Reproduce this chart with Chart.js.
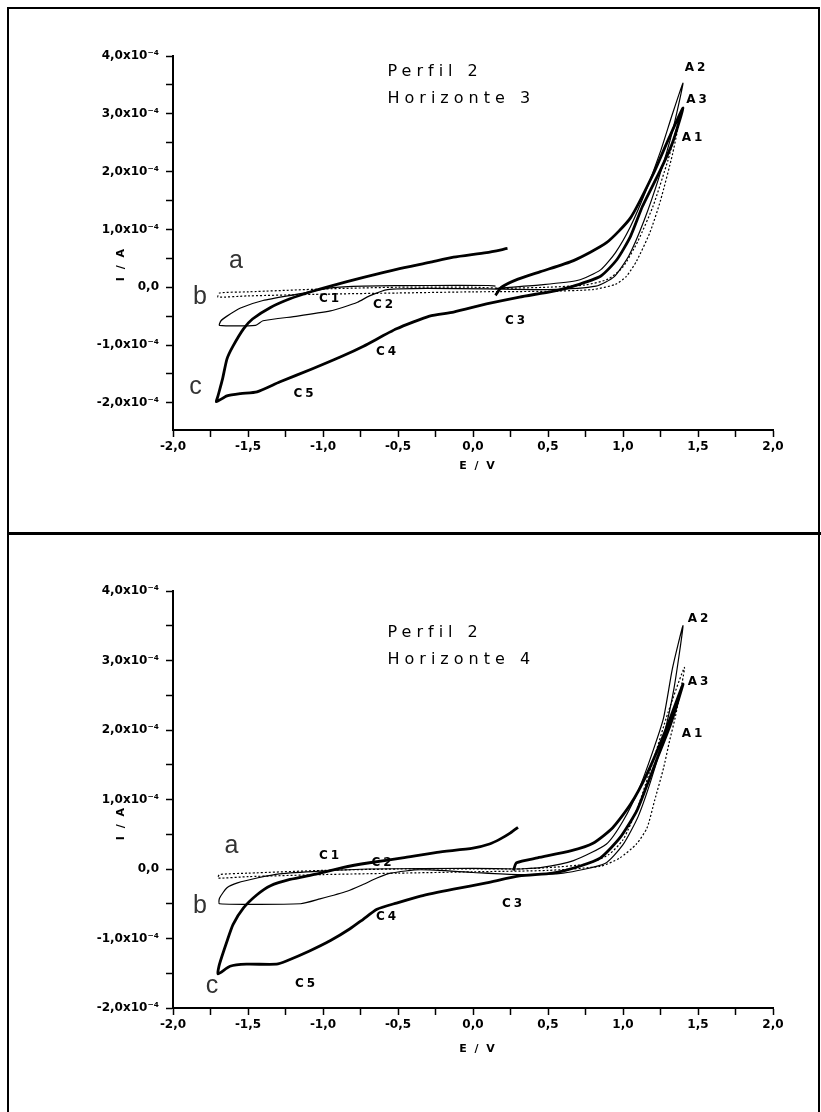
<!DOCTYPE html>
<html>
<head>
<meta charset="utf-8">
<script src="https://cdn.jsdelivr.net/npm/chart.js@4"></script>
<style>
html, body { margin: 0; padding: 0; background: #fff; }
#page { position: relative; width: 821px; height: 1112px; overflow: hidden; }
#frame { position: absolute; left: 7px; top: 7px; width: 813px; height: 1110px; border: 2px solid #000; box-sizing: border-box; }
#split { position: absolute; left: 7px; top: 532px; width: 814px; height: 3px; background: #000; }
canvas { position: absolute; left: 0; }
</style>
</head>
<body>
<div id="page">
  <div id="frame"></div>
  <div id="split"></div>
  <canvas id="chartH3" width="821" height="532" style="top:0"></canvas>
  <canvas id="chartH4" width="821" height="577" style="top:535px"></canvas>
</div>
<script>
// potential ticks (V) and current ticks (x10^-4 A)
const eTicks = [-2, -1.75, -1.5, -1.25, -1, -0.75, -0.5, -0.25, 0, 0.25, 0.5, 0.75, 1, 1.25, 1.5, 1.75, 2];
const iTicks = [-2, -1.5, -1, -0.5, 0, 0.5, 1, 1.5, 2, 2.5, 3, 3.5, 4];

// Perfil 2, Horizonte 3  -- [E (V), I (x10^-4 A)]
const h3_a = [[0.2,-0.02],[0.5,0.0],[0.75,0.04],[0.9,0.14],[1.0,0.35],[1.1,0.8],[1.2,1.4],[1.3,2.2],[1.38,2.95],
  [1.33,2.3],[1.25,1.5],[1.18,0.95],[1.09,0.45],[1.02,0.18],[0.95,0.05],[0.8,-0.04],[0.5,-0.07],[0.0,-0.08],
  [-0.5,-0.1],[-1.0,-0.12],[-1.5,-0.15],[-1.7,-0.17],[-1.69,-0.1],[-1.5,-0.08],[-1.0,-0.03],[-0.5,0.0],[0.0,0.0],[0.2,-0.02]];
const h3_b = [[0.15,-0.02],[0.45,0.04],[0.7,0.12],[0.85,0.3],[0.95,0.6],[1.05,1.05],[1.15,1.65],[1.25,2.35],[1.33,3.0],[1.4,3.53],
  [1.33,2.7],[1.24,1.9],[1.14,1.15],[1.04,0.55],[0.94,0.18],[0.82,0.02],[0.5,-0.04],[0.1,-0.03],[-0.3,-0.02],[-0.57,-0.04],
  [-0.69,-0.15],[-0.77,-0.26],[-0.87,-0.35],[-0.95,-0.41],[-1.17,-0.5],[-1.4,-0.58],[-1.45,-0.66],[-1.69,-0.66],
  [-1.68,-0.58],[-1.64,-0.5],[-1.55,-0.36],[-1.4,-0.23],[-1.17,-0.12],[-0.95,-0.01],[-0.73,0.02],[-0.3,0.03],[0.1,0.03],[0.15,0.02]];
const h3_c = [[0.15,-0.14],[0.19,0.0],[0.3,0.14],[0.45,0.27],[0.67,0.46],[0.89,0.77],[1.05,1.2],[1.2,1.95],[1.31,2.6],[1.4,3.1],
  [1.33,2.5],[1.25,2.03],[1.13,1.4],[1.05,0.88],[0.96,0.48],[0.85,0.19],[0.67,0.02],[0.53,-0.07],[0.31,-0.17],[0.09,-0.29],
  [-0.13,-0.43],[-0.29,-0.5],[-0.51,-0.72],[-0.73,-1.02],[-0.87,-1.19],[-1.07,-1.41],[-1.29,-1.64],[-1.44,-1.81],[-1.55,-1.84],
  [-1.64,-1.88],[-1.71,-1.98],[-1.70,-1.88],[-1.67,-1.59],[-1.64,-1.24],[-1.6,-1.02],[-1.53,-0.72],[-1.47,-0.55],[-1.35,-0.35],
  [-1.22,-0.2],[-1.07,-0.07],[-0.95,0.02],[-0.73,0.17],[-0.51,0.31],[-0.29,0.43],[-0.13,0.52],[0.09,0.6],[0.23,0.67]];

// Perfil 2, Horizonte 4
const h4_a = [[0.3,0.0],[0.5,0.02],[0.75,0.07],[0.9,0.2],[1.0,0.42],[1.1,0.9],[1.2,1.55],[1.3,2.25],[1.41,2.9],
  [1.35,2.2],[1.31,1.84],[1.27,1.45],[1.21,0.98],[1.16,0.59],[1.09,0.36],[0.98,0.16],[0.85,0.04],[0.5,-0.02],[0.0,-0.04],
  [-0.5,-0.06],[-1.0,-0.08],[-1.5,-0.11],[-1.7,-0.13],[-1.69,-0.08],[-1.5,-0.06],[-1.0,-0.02],[-0.5,0.0],[0.0,0.0],[0.3,0.0]];
const h4_b = [[0.3,0.0],[0.45,0.02],[0.67,0.12],[0.89,0.36],[1.0,0.69],[1.11,1.17],[1.2,1.7],[1.27,2.17],[1.33,2.89],[1.4,3.5],
  [1.34,2.6],[1.27,1.9],[1.19,1.3],[1.1,0.75],[1.0,0.35],[0.88,0.08],[0.6,-0.06],[0.3,-0.08],[0.0,-0.05],[-0.35,-0.01],
  [-0.55,-0.06],[-0.64,-0.13],[-0.73,-0.22],[-0.84,-0.32],[-1.02,-0.43],[-1.15,-0.5],[-1.69,-0.5],[-1.69,-0.42],[-1.64,-0.27],
  [-1.57,-0.2],[-1.44,-0.13],[-1.29,-0.07],[-1.02,-0.03],[-0.69,0.0],[0.0,0.01],[0.3,0.0]];
const h4_c = [[0.27,-0.02],[0.29,0.09],[0.43,0.16],[0.65,0.26],[0.8,0.37],[0.93,0.59],[1.05,0.93],[1.16,1.37],[1.29,2.03],[1.4,2.66],
  [1.32,2.1],[1.23,1.6],[1.15,1.15],[1.09,0.83],[0.98,0.45],[0.85,0.16],[0.71,0.04],[0.53,-0.06],[0.31,-0.1],[0.09,-0.2],
  [-0.13,-0.29],[-0.35,-0.39],[-0.51,-0.49],[-0.64,-0.58],[-0.73,-0.72],[-0.82,-0.86],[-0.95,-1.03],[-1.09,-1.18],[-1.24,-1.32],
  [-1.31,-1.37],[-1.51,-1.37],[-1.62,-1.4],[-1.7,-1.51],[-1.69,-1.37],[-1.64,-1.04],[-1.6,-0.8],[-1.53,-0.56],[-1.44,-0.37],
  [-1.35,-0.24],[-1.22,-0.15],[-1.04,-0.07],[-0.87,0.02],[-0.69,0.09],[-0.47,0.16],[-0.24,0.24],[0.0,0.3],[0.11,0.36],
  [0.18,0.43],[0.25,0.52],[0.3,0.6]];

// text placed on the plot, in data units
const h3_notes = [
  { t: 'Perfil 2', x: -0.57, y: 3.72, kind: 'title' },
  { t: 'Horizonte 3', x: -0.57, y: 3.26, kind: 'title' },
  { t: 'A2', x: 1.49, y: 3.79, kind: 'peak' },
  { t: 'A3', x: 1.50, y: 3.24, kind: 'peak' },
  { t: 'A1', x: 1.47, y: 2.59, kind: 'peak' },
  { t: 'a', x: -1.58, y: 0.45, kind: 'curve' },
  { t: 'b', x: -1.82, y: -0.17, kind: 'curve' },
  { t: 'c', x: -1.85, y: -1.72, kind: 'curve' },
  { t: 'C1', x: -0.95, y: -0.21, kind: 'peak' },
  { t: 'C2', x: -0.59, y: -0.31, kind: 'peak' },
  { t: 'C3', x: 0.29, y: -0.59, kind: 'peak' },
  { t: 'C4', x: -0.57, y: -1.12, kind: 'peak' },
  { t: 'C5', x: -1.12, y: -1.84, kind: 'peak' }
];
const h4_notes = [
  { t: 'Perfil 2', x: -0.57, y: 3.40, kind: 'title' },
  { t: 'Horizonte 4', x: -0.57, y: 3.01, kind: 'title' },
  { t: 'A2', x: 1.51, y: 3.60, kind: 'peak' },
  { t: 'A3', x: 1.51, y: 2.69, kind: 'peak' },
  { t: 'A1', x: 1.47, y: 1.94, kind: 'peak' },
  { t: 'a', x: -1.61, y: 0.33, kind: 'curve' },
  { t: 'b', x: -1.82, y: -0.53, kind: 'curve' },
  { t: 'c', x: -1.74, y: -1.68, kind: 'curve' },
  { t: 'C1', x: -0.95, y: 0.19, kind: 'peak' },
  { t: 'C2', x: -0.60, y: 0.09, kind: 'peak' },
  { t: 'C3', x: 0.27, y: -0.50, kind: 'peak' },
  { t: 'C4', x: -0.57, y: -0.69, kind: 'peak' },
  { t: 'C5', x: -1.11, y: -1.65, kind: 'peak' }
];

const noteStyle = {
  title: { font: '16px "DejaVu Sans"', spacing: '5px', align: 'left' },
  peak:  { font: 'bold 12px "DejaVu Sans"', spacing: '3px', align: 'center' },
  curve: { font: '25px "Liberation Sans"', spacing: '0px', align: 'center' }
};

const notesPlugin = {
  id: 'notes',
  afterDraw(chart, args, opts) {
    const { ctx, scales: { x, y } } = chart;
    ctx.save();
    ctx.textBaseline = 'middle';
    opts.items.forEach(n => {
      const st = noteStyle[n.kind];
      ctx.font = st.font;
      ctx.letterSpacing = st.spacing;
      ctx.textAlign = st.align;
      ctx.fillStyle = n.kind === 'curve' ? '#333' : '#000';
      ctx.fillText(n.t, x.getPixelForValue(n.x), y.getPixelForValue(n.y));
    });
    // axis titles
    ctx.fillStyle = '#000';
    ctx.font = 'bold 11px "DejaVu Sans"';
    ctx.letterSpacing = '2px';
    ctx.textAlign = 'center';
    ctx.fillText('E / V', (x.left + x.right) / 2 + 5, x.top + opts.eTitle);
    ctx.translate(121, y.getPixelForValue(opts.iTitle));
    ctx.rotate(-Math.PI / 2);
    ctx.fillText('I / A', 0, 0);
    ctx.restore();
  }
};

function iLabel(v) {
  if (v % 1 !== 0) return '';
  if (v === 0) return '0,0';
  return v + ',0x10\u207B\u2074';
}

function eLabel(v) {
  if (Math.abs(v * 2 - Math.round(v * 2)) > 1e-9) return '';
  return v.toFixed(1).replace('.', ',');
}

function buildChart(id, curves, yMin, notes, eTitle, iTitle, plotBottom) {
  const line = (data, width, dash) => ({
    data, showLine: true, borderColor: '#000', borderWidth: width, borderDash: dash,
    pointRadius: 0, tension: 0.2, fill: false
  });
  return new Chart(document.getElementById(id), {
    type: 'scatter',
    data: {
      datasets: [
        line(curves[0], 1.2, [2, 2]),
        line(curves[1], 1.2, []),
        line(curves[2], 2.8, [])
      ]
    },
    options: {
      responsive: false,
      animation: false,
      layout: { padding: { left: 0, top: 56, right: 48, bottom: 0 } },
      plugins: { legend: { display: false }, tooltip: { enabled: false }, notes: { items: notes, eTitle, iTitle } },
      scales: {
        x: {
          type: 'linear', min: -2, max: 2,
          afterBuildTicks: s => { s.ticks = eTicks.map(v => ({ value: v })); },
          afterFit: s => { s.height = s.chart.height - plotBottom; },
          ticks: { callback: eLabel, autoSkip: false, maxRotation: 0, padding: 3,
                   color: '#000', font: { family: 'DejaVu Sans', size: 12, weight: 'bold' } },
          grid: { drawOnChartArea: false, tickLength: 7, tickColor: '#000', tickWidth: 1.5 },
          border: { color: '#000', width: 2 }
        },
        y: {
          type: 'linear', min: yMin, max: 4,
          afterBuildTicks: s => { s.ticks = iTicks.map(v => ({ value: v })); },
          afterFit: s => { s.width = 173; },
          ticks: { callback: iLabel, autoSkip: false, padding: 7,
                   color: '#000', font: { family: 'DejaVu Sans', size: 12, weight: 'bold' } },
          grid: { drawOnChartArea: false, tickLength: 7, tickColor: '#000', tickWidth: 1.5 },
          border: { color: '#000', width: 2 }
        }
      }
    },
    plugins: [notesPlugin]
  });
}

buildChart('chartH3', [h3_a, h3_b, h3_c], -2.47, h3_notes, 36, 0.40, 430);
buildChart('chartH4', [h4_a, h4_b, h4_c], -2, h4_notes, 41, 0.66, 473);
</script>
</body>
</html>
